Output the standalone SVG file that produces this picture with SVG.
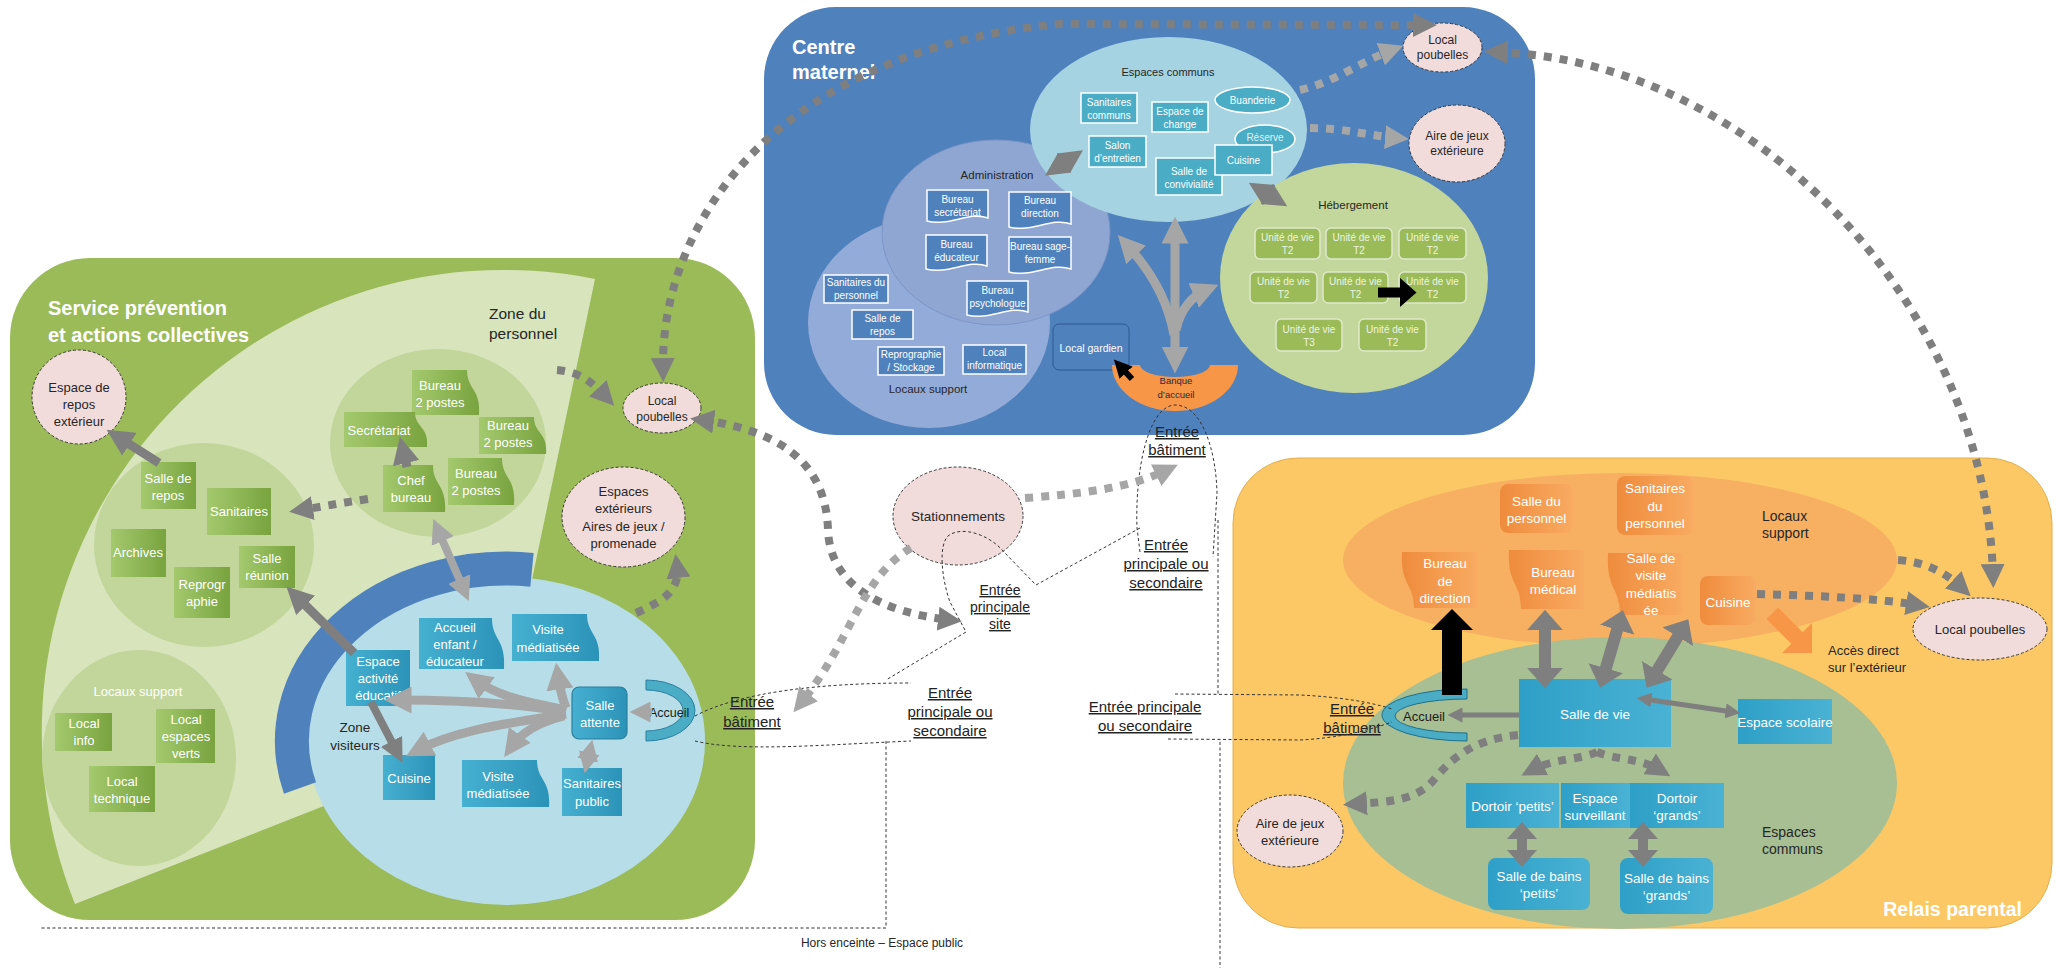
<svg xmlns="http://www.w3.org/2000/svg" width="2060" height="968" viewBox="0 0 2060 968">
<defs>
<style>
text{font-family:"Liberation Sans",Arial,Helvetica,sans-serif}
.ti{font-weight:bold;fill:#fff;font-size:20px}
.w13{fill:#fff;font-size:13px;text-anchor:middle}
.w135{fill:#fff;font-size:13.5px;text-anchor:middle}
.w10{fill:#fff;font-size:10px;text-anchor:middle}
.u10{fill:#eef4e2;font-size:10px;text-anchor:middle}
.k13{fill:#262626;font-size:13px;text-anchor:middle}
.k12{fill:#262626;font-size:12px;text-anchor:middle}
.k115{fill:#262626;font-size:11.5px;text-anchor:middle}
.k14l{fill:#262626;font-size:14px}
.ul{fill:#222;font-size:15px;text-anchor:middle;text-decoration:underline}
.pk{fill:#f2dcdb;stroke:#3a3a3a;stroke-width:1;stroke-dasharray:3 2}
.gn{fill:url(#gG)}
.bn{fill:url(#gB)}
.on{fill:url(#gO)}
.rb{fill:url(#gR)}
.cm{fill:#4bacc6;stroke:#fff;stroke-width:1.5}
.ad{fill:#4f81bd;stroke:#fff;stroke-width:1.5}
.un{fill:#9bbb59;stroke:#dfe9cb;stroke-width:1.5}
.sD{fill:none;stroke:#7f7f7f}
.sL{fill:none;stroke:#a6a6a6}
.dD{fill:none;stroke:#7f7f7f;stroke-width:8;stroke-dasharray:8 8}
.dL{fill:none;stroke:#a6a6a6;stroke-width:8;stroke-dasharray:8 8}
.ds{fill:none;stroke:#333;stroke-width:1;stroke-dasharray:3 2.5}
</style>
<linearGradient id="gG" x1="0" y1="0" x2="1" y2="0"><stop offset="0" stop-color="#a4c96e"/><stop offset="1" stop-color="#78a33e"/></linearGradient>
<linearGradient id="gB" x1="0" y1="0" x2="1" y2="0"><stop offset="0" stop-color="#46b0d1"/><stop offset="1" stop-color="#2c93b8"/></linearGradient>
<linearGradient id="gO" x1="0" y1="0" x2="1" y2="0"><stop offset="0" stop-color="#ef8b3c"/><stop offset="1" stop-color="#f8ab62"/></linearGradient>
<linearGradient id="gR" x1="0" y1="0" x2="1" y2="0"><stop offset="0" stop-color="#2e9fc7"/><stop offset="1" stop-color="#4ab2d4"/></linearGradient>
<marker id="mD" viewBox="0 0 10 10" refX="5" refY="5" markerWidth="3" markerHeight="3" orient="auto-start-reverse"><path d="M0,0L10,5L0,10z" fill="#7f7f7f"/></marker>
<marker id="mL" viewBox="0 0 10 10" refX="5" refY="5" markerWidth="3" markerHeight="3" orient="auto-start-reverse"><path d="M0,0L10,5L0,10z" fill="#a6a6a6"/></marker>
<marker id="mK" viewBox="0 0 10 10" refX="5" refY="5" markerWidth="3" markerHeight="3" orient="auto-start-reverse"><path d="M0,0L10,5L0,10z" fill="#000"/></marker>
<marker id="mDB" viewBox="0 0 10 10" refX="5" refY="5" markerWidth="1.7" markerHeight="3" preserveAspectRatio="none" orient="auto-start-reverse"><path d="M0,0L10,5L0,10z" fill="#7f7f7f"/></marker>
<marker id="mKB" viewBox="0 0 10 10" refX="5" refY="5" markerWidth="1.7" markerHeight="3" preserveAspectRatio="none" orient="auto-start-reverse"><path d="M0,0L10,5L0,10z" fill="#000"/></marker>
</defs>
<rect width="2060" height="968" fill="#fff"/>

<!-- ============ SERVICE PREVENTION ============ -->
<g id="service-prevention">
<rect x="10" y="258" width="745" height="662" rx="80" fill="#9bbb59"/>
<path d="M499,737 L75,904 A462,462 0 0 1 595,279 Z" fill="#d8e4bc"/>
<text class="ti" x="48" y="315">Service prévention</text>
<text class="ti" x="48" y="342">et actions collectives</text>
<text x="489" y="319" style="fill:#262626;font-size:15.5px">Zone du</text>
<text x="489" y="339" style="fill:#262626;font-size:15.5px">personnel</text>
<ellipse cx="438" cy="443" rx="108" ry="94" fill="#c2d69b"/>
<ellipse cx="204" cy="545" rx="110" ry="102" fill="#c2d69b"/>
<ellipse cx="139" cy="758" rx="97" ry="108" fill="#c2d69b"/>
<text x="138" y="696" style="fill:#fff;font-size:13px;text-anchor:middle">Locaux support</text>
<ellipse cx="506" cy="741" rx="199" ry="164" fill="#b7dee8"/>
<path d="M532,569.8 A214,172.5 0 0 0 300,788" fill="none" stroke="#4f81bd" stroke-width="34"/>
<text x="355" y="732" class="k13" style="font-size:13.5px">Zone</text>
<text x="355" y="750" class="k13" style="font-size:13.5px">visiteurs</text>
</g>

<g id="n-bureau-a"><path class="gn" d="M412,370H467C467,390 481,388 479,415H412Z"/><text class="w13" x="440" y="390">Bureau</text><text class="w13" x="440" y="407">2 postes</text></g>
<g id="n-secretariat"><path class="gn" d="M344,412H415C415,428 429,426 427,447H344Z"/><text class="w13" x="379" y="435">Secrétariat</text></g>
<g id="n-bureau-b"><path class="gn" d="M479,417H534C534,434 548,432 546,454H479Z"/><text class="w13" x="508" y="430">Bureau</text><text class="w13" x="508" y="447">2 postes</text></g>
<g id="n-chef-bureau"><path class="gn" d="M383,465H433C433,486 447,484 445,512H383Z"/><text class="w13" x="411" y="485">Chef</text><text class="w13" x="411" y="502">bureau</text></g>
<g id="n-bureau-c"><path class="gn" d="M448,458H502C502,479 516,477 514,505H448Z"/><text class="w13" x="476" y="478">Bureau</text><text class="w13" x="476" y="495">2 postes</text></g>
<g id="n-salle-repos"><rect class="gn" x="141" y="462" width="55" height="47"/><text class="w13" x="168" y="483">Salle de</text><text class="w13" x="168" y="500">repos</text></g>
<g id="n-sanitaires"><rect class="gn" x="207" y="488" width="64" height="47"/><text class="w13" x="239" y="516">Sanitaires</text></g>
<g id="n-archives"><rect class="gn" x="111" y="529" width="55" height="48"/><text class="w13" x="138" y="557">Archives</text></g>
<g id="n-salle-reunion"><rect class="gn" x="239" y="546" width="56" height="42"/><text class="w13" x="267" y="563">Salle</text><text class="w13" x="267" y="580">réunion</text></g>
<g id="n-reprographie"><rect class="gn" x="174" y="567" width="56" height="51"/><text class="w13" x="202" y="589">Reprogr</text><text class="w13" x="202" y="606">aphie</text></g>
<g id="n-local-info"><rect class="gn" x="55" y="713" width="57" height="38"/><text class="w13" x="84" y="728">Local</text><text class="w13" x="84" y="745">info</text></g>
<g id="n-local-espaces-verts"><rect class="gn" x="156" y="709" width="59" height="54"/><text class="w13" x="186" y="724">Local</text><text class="w13" x="186" y="741">espaces</text><text class="w13" x="186" y="758">verts</text></g>
<g id="n-local-technique"><rect class="gn" x="89" y="766" width="66" height="46"/><text class="w13" x="122" y="786">Local</text><text class="w13" x="122" y="803">technique</text></g>

<g id="n-accueil-enfant"><path class="bn" d="M419,618H492C492,641 506,638 504,669H419Z"/><text class="w13" x="455" y="632">Accueil</text><text class="w13" x="455" y="649">enfant /</text><text class="w13" x="455" y="666">éducateur</text></g>
<g id="n-visite-a"><path class="bn" d="M512,614H587C587,635 601,633 599,661H512Z"/><text class="w13" x="548" y="634">Visite</text><text class="w13" x="548" y="652">médiatisée</text></g>
<g id="n-espace-activite"><rect class="bn" x="346" y="650" width="64" height="56"/><text class="w13" x="378" y="666">Espace</text><text class="w13" x="378" y="683">activité</text><text class="w13" x="378" y="700">éducatif</text></g>
<g id="n-salle-attente"><rect class="bn" x="572" y="687" width="55" height="52" rx="7" stroke="#2a7f9e" stroke-width="1.2"/><text class="w13" x="600" y="710">Salle</text><text class="w13" x="600" y="727">attente</text></g>
<g id="n-cuisine-v"><rect class="bn" x="383" y="755" width="52" height="45"/><text class="w13" x="409" y="783">Cuisine</text></g>
<g id="n-visite-b"><path class="bn" d="M462,760H537C537,781 551,779 549,807H462Z"/><text class="w13" x="498" y="781">Visite</text><text class="w13" x="498" y="798">médiatisée</text></g>
<g id="n-sanitaires-public"><rect class="bn" x="562" y="768" width="60" height="48"/><text class="w13" x="592" y="788">Sanitaires</text><text class="w13" x="592" y="806">public</text></g>
<g id="n-accueil-v"><path d="M646,680 A49,30.5 0 0 1 646,741 L646,731 A37,20.5 0 0 0 646,690 Z" fill="#4bacc6" stroke="#2a7f9e" stroke-width="1"/><text x="649" y="717" style="fill:#1a1a1a;font-size:12.5px">Accueil</text></g>

<g id="n-espace-repos-ext"><circle class="pk" cx="79" cy="397" r="47"/><text class="k13" x="79" y="392">Espace de</text><text class="k13" x="79" y="409">repos</text><text class="k13" x="79" y="426">extérieur</text></g>
<g id="n-espaces-ext"><ellipse class="pk" cx="623.5" cy="517" rx="61.5" ry="50"/><text class="k13" x="623.5" y="496">Espaces</text><text class="k13" x="623.5" y="513">extérieurs</text><text class="k13" x="623.5" y="531">Aires de jeux /</text><text class="k13" x="623.5" y="548">promenade</text></g>
<g id="n-poubelles-a"><ellipse class="pk" cx="662" cy="408" rx="39" ry="25"/><text class="k12" x="662" y="405">Local</text><text class="k12" x="662" y="421">poubelles</text></g>

<!-- ============ CENTRE MATERNEL ============ -->
<g id="centre-maternel">
<rect x="764" y="7" width="771" height="428" rx="72" fill="#4f81bd"/>
<text class="ti" x="792" y="54">Centre</text>
<text class="ti" x="792" y="79">maternel</text>
<ellipse cx="929" cy="322.5" rx="121" ry="105.5" fill="#93abd8"/>
<ellipse cx="996" cy="232.5" rx="114" ry="92.5" fill="#8fa6d3" stroke="#7d96c7" stroke-width="1"/>
<ellipse cx="1168.5" cy="129.5" rx="138.5" ry="92.5" fill="#a6d3e2"/>
<ellipse cx="1354" cy="278" rx="134" ry="115" fill="#c3d69b"/>
<text class="k115" x="1168" y="76" style="font-size:11px">Espaces communs</text>
<text class="k115" x="997" y="179">Administration</text>
<text class="k115" x="928" y="393">Locaux support</text>
<text class="k115" x="1353" y="209">Hébergement</text>
</g>

<g id="n-sanitaires-communs"><rect class="cm" x="1081" y="93" width="56" height="30"/><text class="w10" x="1109" y="106">Sanitaires</text><text class="w10" x="1109" y="119">communs</text></g>
<g id="n-espace-change"><rect class="cm" x="1152" y="102" width="56" height="30"/><text class="w10" x="1180" y="115">Espace de</text><text class="w10" x="1180" y="128">change</text></g>
<g id="n-buanderie"><ellipse class="cm" cx="1252.5" cy="100" rx="37.5" ry="13"/><text class="w10" x="1252.5" y="104">Buanderie</text></g>
<g id="n-salon"><rect class="cm" x="1089" y="136" width="57" height="31"/><text class="w10" x="1117.5" y="149">Salon</text><text class="w10" x="1117.5" y="162">d’entretien</text></g>
<g id="n-reserve"><ellipse class="cm" cx="1265" cy="139" rx="30" ry="14"/><text class="w10" x="1265" y="141" style="fill:#dff1f6">Réserve</text></g>
<g id="n-salle-convivialite"><rect class="cm" x="1156" y="158" width="66" height="37"/><text class="w10" x="1189" y="175">Salle de</text><text class="w10" x="1189" y="188">convivialité</text></g>
<g id="n-cuisine-c"><rect class="cm" x="1215" y="145" width="57" height="30"/><text class="w10" x="1243.5" y="164">Cuisine</text></g>

<g id="n-bureau-secretariat"><path class="ad" d="M927,190H988V218C970,211 948,227 927,221Z"/><text class="w10" x="957.5" y="203">Bureau</text><text class="w10" x="957.5" y="216">secrétariat</text></g>
<g id="n-bureau-direction"><path class="ad" d="M1009,192H1071V224C1052,217 1031,233 1009,227Z"/><text class="w10" x="1040" y="204">Bureau</text><text class="w10" x="1040" y="217">direction</text></g>
<g id="n-bureau-educateur"><path class="ad" d="M926,235H987V266C969,259 947,275 926,269Z"/><text class="w10" x="956.5" y="248">Bureau</text><text class="w10" x="956.5" y="261">éducateur</text></g>
<g id="n-bureau-sage-femme"><path class="ad" d="M1009,237H1071V269C1052,262 1031,278 1009,272Z"/><text class="w10" x="1040" y="250">Bureau sage-</text><text class="w10" x="1040" y="263">femme</text></g>
<g id="n-bureau-psychologue"><path class="ad" d="M967,281H1028V312C1010,305 988,321 967,315Z"/><text class="w10" x="997.5" y="294">Bureau</text><text class="w10" x="997.5" y="307">psychologue</text></g>

<g id="n-sanitaires-personnel-c"><rect class="ad" x="824" y="275" width="64" height="28"/><text class="w10" x="856" y="286">Sanitaires du</text><text class="w10" x="856" y="299">personnel</text></g>
<g id="n-salle-repos-c"><rect class="ad" x="852" y="310" width="61" height="29"/><text class="w10" x="882.5" y="322">Salle de</text><text class="w10" x="882.5" y="335">repos</text></g>
<g id="n-reprographie-c"><rect class="ad" x="878" y="347" width="66" height="28"/><text class="w10" x="911" y="358">Reprographie</text><text class="w10" x="911" y="371">/ Stockage</text></g>
<g id="n-local-informatique"><rect class="ad" x="963" y="345" width="63" height="29"/><text class="w10" x="994.5" y="356">Local</text><text class="w10" x="994.5" y="369">informatique</text></g>

<g id="n-unites">
<rect class="un" x="1255" y="228" width="65" height="31" rx="5"/><text class="u10" x="1287.5" y="241">Unité de vie</text><text class="u10" x="1287.5" y="254">T2</text>
<rect class="un" x="1326" y="228" width="66" height="31" rx="5"/><text class="u10" x="1359" y="241">Unité de vie</text><text class="u10" x="1359" y="254">T2</text>
<rect class="un" x="1399" y="228" width="67" height="31" rx="5"/><text class="u10" x="1432.5" y="241">Unité de vie</text><text class="u10" x="1432.5" y="254">T2</text>
<rect class="un" x="1250" y="272" width="67" height="31" rx="5"/><text class="u10" x="1283.5" y="285">Unité de vie</text><text class="u10" x="1283.5" y="298">T2</text>
<rect class="un" x="1323" y="272" width="65" height="31" rx="5"/><text class="u10" x="1355.5" y="285">Unité de vie</text><text class="u10" x="1355.5" y="298">T2</text>
<rect class="un" x="1399" y="272" width="67" height="31" rx="5"/><text class="u10" x="1432.5" y="285">Unité de vie</text><text class="u10" x="1432.5" y="298">T2</text>
<rect class="un" x="1276" y="319" width="66" height="32" rx="5"/><text class="u10" x="1309" y="333">Unité de vie</text><text class="u10" x="1309" y="346">T3</text>
<rect class="un" x="1359" y="319" width="67" height="32" rx="5"/><text class="u10" x="1392.5" y="333">Unité de vie</text><text class="u10" x="1392.5" y="346">T2</text>
</g>
<g id="n-local-gardien"><rect x="1053" y="324" width="76" height="46" rx="6" fill="#4f81bd" stroke="#2c5a93" stroke-width="1"/><text class="w10" x="1091" y="352" style="font-size:10.5px">Local gardien</text></g>
<g id="n-banque-accueil"><path d="M1112,365 A63,46 0 0 0 1238,365 L1210,365 A35,12 0 0 1 1140,365 Z" fill="#f79646"/><text x="1176" y="384" style="fill:#1f2a44;font-size:9.5px;text-anchor:middle">Banque</text><text x="1176" y="398" style="fill:#1f2a44;font-size:9.5px;text-anchor:middle">d’accueil</text></g>
<g id="n-poubelles-b"><ellipse class="pk" cx="1442.5" cy="47.5" rx="39.5" ry="24.5"/><text class="k12" x="1442.5" y="44">Local</text><text class="k12" x="1442.5" y="59">poubelles</text></g>
<g id="n-aire-jeux-b"><ellipse class="pk" cx="1457" cy="143.5" rx="48" ry="38.5"/><text class="k12" x="1457" y="140">Aire de jeux</text><text class="k12" x="1457" y="155">extérieure</text></g>

<!-- ============ RELAIS PARENTAL ============ -->
<g id="relais-parental">
<rect x="1233" y="458" width="819" height="470" rx="65" fill="#fcc866" stroke="#e3ad4c" stroke-width="1"/>
<ellipse cx="1620" cy="560" rx="277" ry="87" fill="#f7b062"/>
<ellipse cx="1620" cy="783" rx="277" ry="146" fill="#a7bf93"/>
<text class="k14l" x="1762" y="521">Locaux</text>
<text class="k14l" x="1762" y="538">support</text>
<text class="k14l" x="1762" y="837">Espaces</text>
<text class="k14l" x="1762" y="854">communs</text>
<text class="k14l" x="1828" y="655" style="font-size:13px">Accès direct</text>
<text class="k14l" x="1828" y="672" style="font-size:13px">sur l’extérieur</text>
<text class="ti" x="2022" y="916" style="text-anchor:end;font-size:19.5px">Relais parental</text>
</g>
<g id="n-salle-personnel-r"><rect class="on" x="1500" y="484" width="73" height="49" rx="8"/><text class="w135" x="1536.5" y="506">Salle du</text><text class="w135" x="1536.5" y="523">personnel</text></g>
<g id="n-sanitaires-personnel-r"><rect class="on" x="1617" y="476" width="76" height="59" rx="8"/><text class="w135" x="1655" y="493">Sanitaires</text><text class="w135" x="1655" y="511">du</text><text class="w135" x="1655" y="528">personnel</text></g>
<g id="n-bureau-direction-r"><path class="on" d="M1402,552H1477V608H1414C1414,583 1400,586 1402,552Z"/><text class="w135" x="1445" y="568">Bureau</text><text class="w135" x="1445" y="586">de</text><text class="w135" x="1445" y="603">direction</text></g>
<g id="n-bureau-medical"><path class="on" d="M1509,550H1584V609H1521C1521,582 1507,585 1509,550Z"/><text class="w135" x="1553" y="577">Bureau</text><text class="w135" x="1553" y="594">médical</text></g>
<g id="n-salle-visite-r"><path class="on" d="M1608,553H1683V615H1620C1620,587 1606,590 1608,553Z"/><text class="w135" x="1651" y="563">Salle de</text><text class="w135" x="1651" y="580">visite</text><text class="w135" x="1651" y="598">médiatis</text><text class="w135" x="1651" y="615">ée</text></g>
<g id="n-cuisine-r"><rect class="on" x="1700" y="576" width="56" height="49" rx="8"/><text class="w135" x="1728" y="607">Cuisine</text></g>
<g id="n-salle-vie"><rect class="rb" x="1519" y="679" width="152" height="68"/><text class="w135" x="1595" y="719">Salle de vie</text></g>
<g id="n-espace-scolaire"><rect class="rb" x="1738" y="699" width="94" height="45"/><text class="w135" x="1785" y="727">Espace scolaire</text></g>
<g id="n-dortoir-petits"><rect class="rb" x="1466" y="783" width="93" height="45"/><text class="w135" x="1512.5" y="811">Dortoir ‘petits’</text></g>
<g id="n-espace-surveillant"><rect class="rb" x="1561" y="783" width="69" height="45"/><text class="w135" x="1595" y="803">Espace</text><text class="w135" x="1595" y="820">surveillant</text></g>
<g id="n-dortoir-grands"><rect class="rb" x="1630" y="783" width="94" height="45"/><text class="w135" x="1677" y="803">Dortoir</text><text class="w135" x="1677" y="820">‘grands’</text></g>
<g id="n-sdb-petits"><rect class="rb" x="1488" y="858" width="102" height="52" rx="8"/><text class="w135" x="1539" y="881">Salle de bains</text><text class="w135" x="1539" y="898">‘petits’</text></g>
<g id="n-sdb-grands"><rect class="rb" x="1620" y="858" width="93" height="56" rx="8"/><text class="w135" x="1666.5" y="883">Salle de bains</text><text class="w135" x="1666.5" y="900">‘grands’</text></g>
<g id="n-accueil-r"><path d="M1467,689 A85,26 0 0 0 1467,741 L1467,733 A72,17 0 0 1 1467,699 Z" fill="#4bacc6" stroke="#1f6f8b" stroke-width="1"/><text x="1403" y="721" style="fill:#1a1a1a;font-size:13px">Accueil</text></g>
<g id="n-aire-jeux-r"><ellipse class="pk" cx="1290" cy="831" rx="53" ry="36"/><text class="k13" x="1290" y="828">Aire de jeux</text><text class="k13" x="1290" y="845">extérieure</text></g>
<g id="n-poubelles-r"><ellipse class="pk" cx="1980" cy="629" rx="67" ry="31"/><text class="k13" x="1980" y="634">Local poubelles</text></g>
<g id="n-acces-direct"><polygon points="1766.6,619 1778,607.6 1802.7,632.3 1812,623 1812,653 1782,653 1791.3,643.7" fill="#f79646"/></g>

<!-- ============ SITE / ENTRANCES ============ -->
<g id="n-stationnements"><ellipse class="pk" cx="958" cy="516" rx="65" ry="49"/><text class="k13" x="958" y="521" style="font-size:13.5px">Stationnements</text></g>
<g id="entrances">
<text class="ul"><tspan x="752" y="707">Entrée</tspan><tspan x="752" y="727">bâtiment</tspan></text>
<text class="ul"><tspan x="950" y="698">Entrée</tspan><tspan x="950" y="717">principale ou</tspan><tspan x="950" y="736">secondaire</tspan></text>
<text class="ul" style="font-size:14px"><tspan x="1000" y="595">Entrée</tspan><tspan x="1000" y="612">principale</tspan><tspan x="1000" y="629">site</tspan></text>
<text class="ul"><tspan x="1177" y="437">Entrée</tspan><tspan x="1177" y="455">bâtiment</tspan></text>
<text class="ul"><tspan x="1166" y="550">Entrée</tspan><tspan x="1166" y="569">principale ou</tspan><tspan x="1166" y="588">secondaire</tspan></text>
<text class="ul"><tspan x="1145" y="712">Entrée principale</tspan><tspan x="1145" y="731">ou secondaire</tspan></text>
<text class="ul"><tspan x="1352" y="714">Entrée</tspan><tspan x="1352" y="733">bâtiment</tspan></text>
<text x="882" y="947" style="fill:#262626;font-size:12px;text-anchor:middle">Hors enceinte – Espace public</text>
</g>

<!-- ============ CONNECTORS ============ -->
<g id="connectors">
<g id="boundaries">
<path class="ds" d="M695,716 C740,692 820,683 911,683"/>
<path class="ds" d="M695,741 C740,752 820,745 911,741"/>
<path class="ds" d="M1140,528 L1036,585 L1004,552 C990,535 962,525 948,536 C938,546 942,580 950,602 L966,632 L886,680"/>
<path class="ds" d="M886,741 V928 H40"/>
<path class="ds" d="M1140,552 L1137,528 C1135,470 1148,406 1175,405 C1202,405 1216,450 1217,493 L1213,557"/>
<path class="ds" d="M1218,520 V694"/>
<path class="ds" d="M1175,694 L1300,695 C1340,697 1370,702 1392,709"/>
<path class="ds" d="M1168,739 L1300,740 C1340,738 1370,730 1392,722"/>
<path class="ds" d="M1220,742 V968"/>
</g>
<path class="sD" stroke-width="9" d="M159,463 L118,437" marker-end="url(#mD)"/>
<path class="sD" stroke-width="9" d="M407,467 L403,450" marker-end="url(#mD)"/>
<path class="sD" stroke-width="9" d="M354,653 L296,596" marker-end="url(#mD)"/>
<path class="sD" stroke-width="8" d="M371,702 L397,752" marker-end="url(#mD)"/>
<path class="sL" stroke-width="8" d="M438,530 L464,590" marker-start="url(#mL)" marker-end="url(#mL)"/>
<path class="sL" stroke-width="9" d="M566,712 C520,704 460,700 398,700" marker-end="url(#mL)"/>
<path class="sL" stroke-width="9" d="M566,710 C530,702 500,698 476,680" marker-end="url(#mL)"/>
<path class="sL" stroke-width="9" d="M566,708 C563,700 560,690 558,676" marker-end="url(#mL)"/>
<path class="sL" stroke-width="9" d="M566,714 C520,722 460,728 418,750" marker-end="url(#mL)"/>
<path class="sL" stroke-width="9" d="M564,716 C540,722 522,732 512,746" marker-end="url(#mL)"/>
<path class="sL" stroke-width="7" d="M590,750 L587,763" marker-start="url(#mL)" marker-end="url(#mL)"/>
<path class="sL" stroke-width="7" d="M652,712 L640,712" marker-end="url(#mL)"/>
<path class="dD" d="M368,499 C340,503 320,507 301,510" marker-end="url(#mD)"/>
<path class="dD" d="M557,370 C580,372 592,382 606,397" marker-end="url(#mD)"/>
<path class="dD" d="M636,613 C665,600 680,590 677,566" marker-end="url(#mD)"/>
<path class="dD" d="M702,420 C790,432 826,470 828,530 C830,585 880,612 950,620" marker-start="url(#mD)" marker-end="url(#mD)"/>
<path class="dD" d="M663,370 C660,220 780,50 1060,24 L1425,25" marker-start="url(#mD)" marker-end="url(#mD)"/>
<path class="dL" d="M1025,498 C1080,494 1130,488 1167,470" marker-end="url(#mL)"/>
<path class="dL" d="M911,548 C860,578 852,640 801,703" marker-end="url(#mL)"/>
<path class="dL" d="M1300,90 C1335,82 1360,62 1392,50" marker-end="url(#mL)"/>
<path class="dL" d="M1310,128 C1345,128 1370,136 1397,138" marker-end="url(#mL)"/>
<path class="dD" d="M1496,52 C1750,60 1985,300 1993,576" marker-start="url(#mD)" marker-end="url(#mD)"/>
<path class="sL" stroke-width="9" d="M1175,360 L1175,230" marker-start="url(#mL)" marker-end="url(#mL)"/>
<path class="sL" stroke-width="9" d="M1174,335 C1168,300 1150,270 1127,245" marker-end="url(#mL)"/>
<path class="sL" stroke-width="9" d="M1176,330 C1180,310 1192,296 1206,290" marker-end="url(#mL)"/>
<path class="sD" stroke-width="8" d="M1055,169 L1073,157" marker-start="url(#mD)" marker-end="url(#mD)"/>
<path class="sD" stroke-width="8" d="M1259,189 L1277,200" marker-start="url(#mD)" marker-end="url(#mD)"/>
<path fill="none" stroke="#000" stroke-width="6" d="M1132,379 L1120,366" marker-end="url(#mK)"/>
<path fill="none" stroke="#000" stroke-width="10" d="M1378,292.5 L1408,292.5" marker-end="url(#mKB)"/>
<polygon points="1442,695 1442,630 1431,630 1452,609 1473,630 1462,630 1462,695" fill="#000"/>
<path class="sD" stroke-width="5" d="M1519,715 L1455,715" marker-end="url(#mD)"/>
<path class="sD" stroke-width="12" d="M1545,620 L1545,678" marker-start="url(#mDB)" marker-end="url(#mDB)"/>
<path class="sD" stroke-width="12" d="M1620,620 L1603,678" marker-start="url(#mDB)" marker-end="url(#mDB)"/>
<path class="sD" stroke-width="12" d="M1683,628 L1652,679" marker-start="url(#mDB)" marker-end="url(#mDB)"/>
<path class="sD" stroke-width="5" d="M1644,699 L1733,712" marker-start="url(#mD)" marker-end="url(#mD)"/>
<path class="sD" stroke-width="10" d="M1522,830.5 L1522,858.5" marker-start="url(#mDB)" marker-end="url(#mDB)"/>
<path class="sD" stroke-width="10" d="M1643,830.5 L1643,858.5" marker-start="url(#mDB)" marker-end="url(#mDB)"/>
<path class="dD" d="M1597,752 C1580,760 1555,758 1532,770" marker-end="url(#mD)"/>
<path class="dD" d="M1597,752 C1615,760 1640,758 1660,770" marker-end="url(#mD)"/>
<path class="dD" d="M1518,735 C1470,740 1450,760 1432,782 C1415,800 1390,802 1355,804" marker-end="url(#mD)"/>
<path class="dD" d="M1898,560 C1925,562 1945,572 1962,588" marker-end="url(#mD)"/>
<path class="dD" d="M1757,594 C1820,596 1875,598 1918,605" marker-end="url(#mD)"/>
</g>
</svg>
